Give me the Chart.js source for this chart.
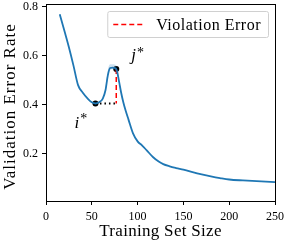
<!DOCTYPE html>
<html>
<head>
<meta charset="utf-8">
<script src="https://cdn.jsdelivr.net/npm/chart.js@4/dist/chart.umd.min.js"></script>
<style>
  html, body { margin: 0; padding: 0; background: #fff; }
  canvas { display: block; }
</style>
</head>
<body>
<canvas id="chart" width="284" height="240"></canvas>
<script>
// training set size vs validation error rate
var trainSizes = [15, 18, 21, 25, 30, 35, 40, 46, 50, 54, 58, 62, 65, 67.5, 70, 73, 76.7,
    78, 80, 82, 84.4, 87, 90, 95, 100, 105, 110, 117, 123, 128, 135, 142, 150, 160, 170,
    180, 190, 200, 215, 230, 250];
var errorRates = [0.77, 0.73, 0.69, 0.635, 0.56, 0.48, 0.45, 0.423, 0.41, 0.405, 0.41,
    0.425, 0.46, 0.52, 0.55, 0.552, 0.546, 0.53, 0.49, 0.45, 0.41, 0.375, 0.34, 0.283,
    0.25, 0.233, 0.213, 0.185, 0.168, 0.157, 0.148, 0.141, 0.134, 0.124, 0.115, 0.107,
    0.1, 0.094, 0.09, 0.087, 0.083];
// faint spread band, only visible around the bump
var bandSizes = [64, 66, 68, 70, 73, 76.7, 78];
var bandUpper = [0.45, 0.5, 0.55, 0.565, 0.566, 0.56, 0.54];
var bandLower = [0.435, 0.475, 0.525, 0.543, 0.545, 0.54, 0.525];
var iStar = [54, 0.405];   // local minimum
var jStar = [76.7, 0.546]; // local peak
var xTicks = [0, 50, 100, 150, 200, 250];
var yTicks = [0.2, 0.4, 0.6, 0.8];
var xTitle = 'Training Set Size';
var yTitle = 'Validation Error Rate';
var legendLabel = 'Violation Error';

var serif = "'Liberation Serif', 'DejaVu Serif', serif";

function pts(xs, ys) { return xs.map(function (x, i) { return { x: x, y: ys[i] }; }); }

// frame, axis titles, legend and the i*/j* labels
var extras = {
    id: 'extras',
    afterDraw: function (chart) {
        var ctx = chart.ctx;
        var a = chart.chartArea;
        var xs = chart.scales.x, ys = chart.scales.y;
        ctx.save();
        ctx.strokeStyle = '#000';
        ctx.lineWidth = 1;
        ctx.strokeRect(Math.round(a.left) + 0.5, Math.round(a.top) + 0.5,
            Math.round(a.right - a.left), Math.round(a.bottom - a.top));

        // axis titles (CM-like width needs a bit of letter spacing)
        ctx.fillStyle = '#000';
        ctx.textAlign = 'center';
        ctx.textBaseline = 'alphabetic';
        ctx.font = '17px ' + serif;
        ctx.letterSpacing = '0.3px';
        ctx.fillText(xTitle, (a.left + a.right) / 2, 236);
        ctx.letterSpacing = '1px';
        ctx.save();
        ctx.translate(15, (a.top + a.bottom) / 2 + 4);
        ctx.rotate(-Math.PI / 2);
        ctx.fillText(yTitle, 0, 0);
        ctx.restore();

        // legend
        ctx.textAlign = 'left';
        ctx.font = '16px ' + serif;
        ctx.letterSpacing = '0.5px';
        var tw = ctx.measureText(legendLabel).width;
        var boxR = a.right - 7, boxT = a.top + 7, boxH = 26;
        var boxW = tw + 56;
        var boxL = boxR - boxW;
        ctx.fillStyle = 'rgba(255,255,255,0.85)';
        ctx.strokeStyle = '#d0d0d0';
        ctx.beginPath();
        ctx.roundRect(boxL + 0.5, boxT + 0.5, boxW, boxH, 2);
        ctx.fill();
        ctx.stroke();
        var ly = boxT + boxH / 2 + 0.5;
        ctx.strokeStyle = 'red';
        ctx.lineWidth = 1.5;
        ctx.setLineDash([5, 3]);
        ctx.beginPath();
        ctx.moveTo(boxL + 6, ly);
        ctx.lineTo(boxL + 36, ly);
        ctx.stroke();
        ctx.setLineDash([]);
        ctx.fillStyle = '#000';
        ctx.textBaseline = 'middle';
        ctx.fillText(legendLabel, boxL + 49, ly + 1);

        // star labels
        ctx.letterSpacing = '0px';
        ctx.textBaseline = 'alphabetic';
        function star(txt, px, py, dy) {
            ctx.font = 'italic 17px ' + serif;
            ctx.fillText(txt, px, py);
            var w = ctx.measureText(txt).width;
            ctx.font = '14px ' + serif;
            ctx.fillText('*', px + w + 1, py - dy);
        }
        star('i', xs.getPixelForValue(iStar[0]) - 21, ys.getPixelForValue(iStar[1]) + 24.5, 5);
        star('j', xs.getPixelForValue(jStar[0]) + 15, ys.getPixelForValue(jStar[1]) - 9.5, 3);
        ctx.restore();
    }
};

new Chart(document.getElementById('chart'), {
    type: 'scatter',
    data: {
        datasets: [{
            label: 'band upper',
            data: pts(bandSizes, bandUpper),
            showLine: true,
            borderWidth: 0,
            pointRadius: 0,
            backgroundColor: 'rgba(31,119,180,0.22)',
            fill: '+1',
            cubicInterpolationMode: 'monotone'
        }, {
            label: 'band lower',
            data: pts(bandSizes, bandLower),
            showLine: true,
            borderWidth: 0,
            pointRadius: 0,
            cubicInterpolationMode: 'monotone'
        }, {
            label: 'Validation error',
            data: pts(trainSizes, errorRates),
            showLine: true,
            borderColor: '#1f77b4',
            borderWidth: 1.8,
            pointRadius: 0,
            cubicInterpolationMode: 'monotone'
        }, {
            label: legendLabel,
            data: [{ x: jStar[0], y: jStar[1] }, { x: jStar[0], y: iStar[1] }],
            showLine: true,
            borderColor: 'red',
            borderWidth: 1.5,
            borderDash: [5, 3],
            pointRadius: 0
        }, {
            label: 'gap',
            data: [{ x: iStar[0], y: iStar[1] }, { x: jStar[0], y: iStar[1] }],
            showLine: true,
            borderColor: '#000',
            borderWidth: 2,
            borderDash: [1.5, 3],
            pointRadius: 0
        }, {
            label: 'points',
            data: [{ x: iStar[0], y: iStar[1] }, { x: jStar[0], y: jStar[1] }],
            showLine: false,
            pointRadius: 3,
            pointBackgroundColor: '#000',
            pointBorderWidth: 0
        }]
    },
    options: {
        responsive: false,
        animation: false,
        devicePixelRatio: 1,
        layout: { padding: { top: 3, right: 9, left: 0, bottom: 0 } },
        plugins: { legend: { display: false }, tooltip: { enabled: false } },
        scales: {
            x: {
                type: 'linear',
                min: 0,
                max: 250,
                afterBuildTicks: function (s) { s.ticks = xTicks.map(function (v) { return { value: v }; }); },
                afterFit: function (s) { s.height = 39; s.paddingLeft = 0; s.paddingRight = 0; },
                grid: { drawOnChartArea: false, drawTicks: true, tickLength: 4, color: '#000' },
                border: { color: '#000' },
                ticks: { color: '#000', font: { family: serif, size: 12 }, padding: 5, maxRotation: 0 }
            },
            y: {
                min: 0.006,
                max: 0.812,
                afterBuildTicks: function (s) { s.ticks = yTicks.map(function (v) { return { value: v }; }); },
                afterFit: function (s) { s.width = 46; s.paddingTop = 0; s.paddingBottom = 0; },
                grid: { drawOnChartArea: false, drawTicks: true, tickLength: 4, color: '#000' },
                border: { color: '#000' },
                ticks: { color: '#000', font: { family: serif, size: 12 }, padding: 4,
                    callback: function (v) { return v.toFixed(1); } }
            }
        }
    },
    plugins: [extras]
});
</script>
</body>
</html>
